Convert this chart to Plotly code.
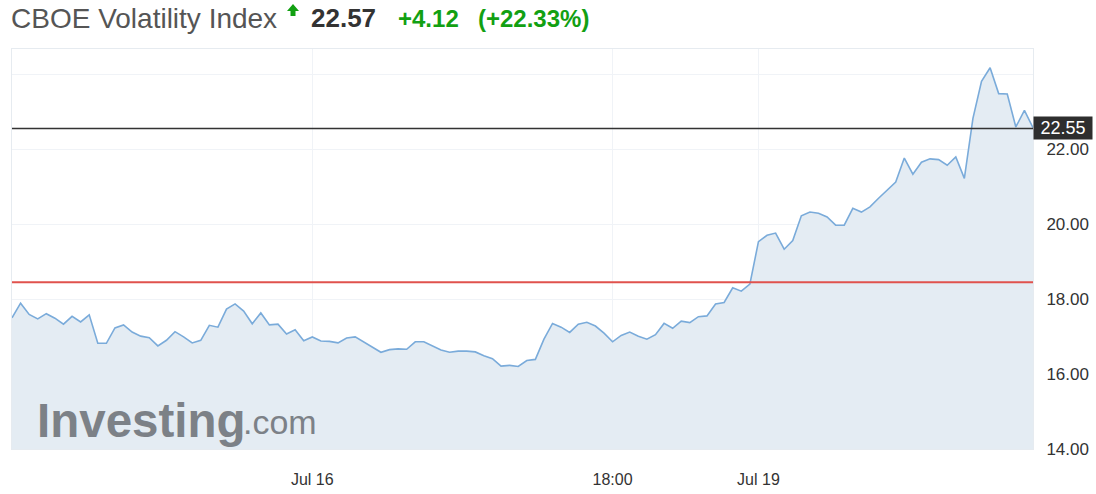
import plotly.graph_objects as go

# ---- data ----
values = [17.50, 17.89, 17.59, 17.47, 17.61, 17.49, 17.33, 17.54, 17.39, 17.58,
          16.82, 16.82, 17.23, 17.31, 17.12, 17.01, 16.97, 16.75, 16.90, 17.13,
          16.99, 16.83, 16.90, 17.30, 17.25, 17.73, 17.87, 17.68, 17.34, 17.63,
          17.31, 17.33, 17.07, 17.18, 16.89, 16.99, 16.88, 16.87, 16.83, 16.96,
          16.99, 16.85, 16.71, 16.58, 16.65, 16.67, 16.66, 16.86, 16.86, 16.74,
          16.64, 16.58, 16.61, 16.61, 16.59, 16.49, 16.41, 16.21, 16.23, 16.20,
          16.36, 16.39, 16.93, 17.35, 17.25, 17.11, 17.33, 17.38, 17.28, 17.09,
          16.86, 17.03, 17.12, 17.01, 16.93, 17.05, 17.35, 17.22, 17.41, 17.37,
          17.53, 17.55, 17.87, 17.91, 18.30, 18.21, 18.40, 19.53, 19.70, 19.76,
          19.33, 19.56, 20.22, 20.32, 20.29, 20.19, 19.97, 19.97, 20.42, 20.32,
          20.46, 20.69, 20.91, 21.12, 21.76, 21.33, 21.65, 21.74, 21.72, 21.57,
          21.79, 21.22, 22.82, 23.81, 24.17, 23.48, 23.47, 22.59, 23.03, 22.57]
x_index = list(range(len(values)))

x_tick_pos = [35, 70, 87]
x_tick_text = ["Jul 16", "18:00", "Jul 19"]
y_tick_vals = [14, 16, 18, 20, 22, 24]
y_tick_text = ["14.00", "16.00", "18.00", "20.00", "22.00", ""]

prev_close = 18.45
last_price = 22.55
title_name = "CBOE Volatility Index"
price_text = "22.57"
change_text = "+4.12"
pct_text = "(+22.33%)"

# ---- geometry helpers (pixel -> paper) ----
W, H = 1096, 494
ML, MR, MT, MB = 12, 63, 49, 45
PW, PH = W - ML - MR, H - MT - MB


def px(xp):
    return (xp - ML) / PW


def py(yp):
    return (H - MB - yp) / PH


GREEN = "#12a012"
LOGO = "#7c8187"
FONT = "Liberation Sans, Arial, sans-serif"

fig = go.Figure()
fig.add_trace(go.Scatter(
    x=x_index, y=values, mode="lines",
    line=dict(color="#7aabda", width=1.6),
    fill="tozeroy", fillcolor="#e4ecf3",
    hoverinfo="skip", showlegend=False,
))

shapes = [
    dict(type="line", xref="paper", yref="y", x0=0, x1=1, y0=prev_close, y1=prev_close,
         line=dict(color="#e0524d", width=2)),
    dict(type="line", xref="paper", yref="y", x0=0, x1=1, y0=last_price, y1=last_price,
         line=dict(color="#333333", width=1.6)),
    # green up arrow
    dict(type="path", xref="paper", yref="paper",
         path=f"M {px(287)} {py(11)} L {px(293)} {py(4)} L {px(299)} {py(11)} "
              f"L {px(295.5)} {py(11)} L {px(295.5)} {py(16)} L {px(290.5)} {py(16)} "
              f"L {px(290.5)} {py(11)} Z",
         fillcolor=GREEN, line=dict(width=0)),
]

annotations = [
    dict(text=title_name, x=px(9), y=py(18), xref="paper", yref="paper",
         xanchor="left", yanchor="middle", showarrow=False,
         font=dict(family=FONT, size=28, color="#555555")),
    dict(text=f"<b>{price_text}</b>", x=px(309), y=py(18), xref="paper", yref="paper",
         xanchor="left", yanchor="middle", showarrow=False,
         font=dict(family=FONT, size=26, color="#333333")),
    dict(text=f"<b>{change_text}</b>", x=px(396), y=py(18), xref="paper", yref="paper",
         xanchor="left", yanchor="middle", showarrow=False,
         font=dict(family=FONT, size=24, color=GREEN)),
    dict(text=f"<b>{pct_text}</b>", x=px(476), y=py(18), xref="paper", yref="paper",
         xanchor="left", yanchor="middle", showarrow=False,
         font=dict(family=FONT, size=24, color=GREEN)),
    # last price tag
    dict(text=f"{last_price:.2f}", x=1.0, y=last_price, xref="paper", yref="y",
         xanchor="left", yanchor="middle", showarrow=False,
         bgcolor="#2e2e2e", borderpad=0, width=58, height=22,
         font=dict(family=FONT, size=18, color="#ffffff")),
    # watermark logo
    dict(text="<b>Investing</b>", x=px(35), y=py(420), xref="paper", yref="paper",
         xanchor="left", yanchor="middle", showarrow=False,
         font=dict(family=FONT, size=47.5, color=LOGO)),
    dict(text=".com", x=px(241), y=py(422), xref="paper", yref="paper",
         xanchor="left", yanchor="middle", showarrow=False,
         font=dict(family=FONT, size=34, color=LOGO)),
]

fig.update_layout(
    width=W, height=H,
    margin=dict(l=ML, r=MR, t=MT, b=MB, autoexpand=False),
    paper_bgcolor="white", plot_bgcolor="white",
    shapes=shapes, annotations=annotations,
    font=dict(family=FONT, color="#333333"),
    xaxis=dict(
        range=[0, len(values) - 1], tickmode="array",
        tickvals=x_tick_pos, ticktext=x_tick_text, automargin=False,
        showgrid=True, gridcolor="#f0f3f7", gridwidth=1,
        zeroline=False, showline=True, linecolor="#e6ebf0", mirror=True,
        ticks="outside", ticklen=16, tickcolor="rgba(0,0,0,0)",
        tickfont=dict(size=16, color="#333333", family=FONT),
    ),
    yaxis=dict(
        range=[14, 24.67], side="right", tickmode="array",
        tickvals=y_tick_vals, ticktext=y_tick_text, automargin=False,
        showgrid=True, gridcolor="#f0f3f7", gridwidth=1,
        zeroline=False, showline=True, linecolor="#e6ebf0", mirror=True,
        ticks="outside", ticklen=9, tickcolor="rgba(0,0,0,0)",
        tickfont=dict(size=17, color="#333333", family=FONT),
    ),
)

fig.write_html(
    "out.html",
    config={"displayModeBar": False},
    post_script="document.body.style.margin='0px';document.body.style.overflow='hidden';",
)
